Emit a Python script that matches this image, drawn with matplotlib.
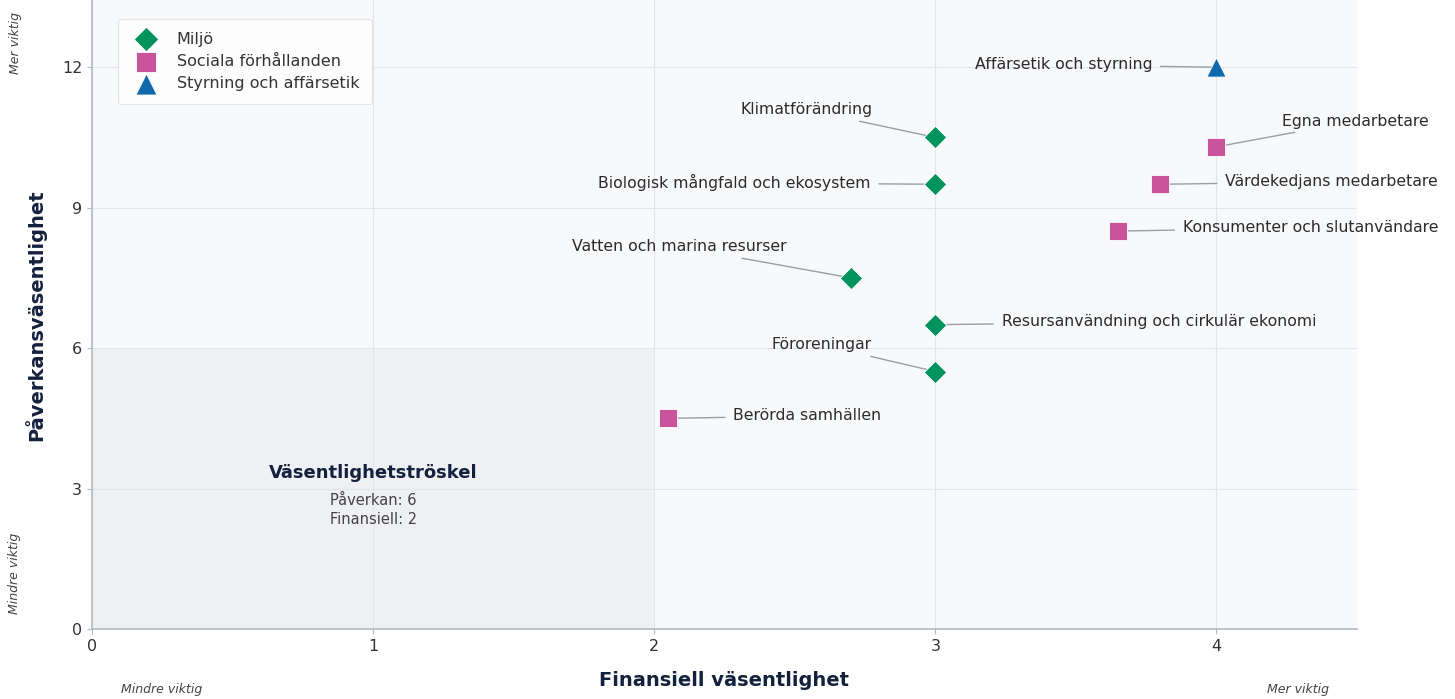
import matplotlib
matplotlib.use("Agg")
import matplotlib.pyplot as plt
from matplotlib.patches import Rectangle

# ---- data ----
miljo_names = ["Klimatförändring", "Biologisk mångfald och ekosystem",
               "Vatten och marina resurser", "Resursanvändning och cirkulär ekonomi",
               "Föroreningar"]
miljo_fin = [3.0, 3.0, 2.7, 3.0, 3.0]
miljo_pav = [10.5, 9.5, 7.5, 6.5, 5.5]

soc_names = ["Berörda samhällen", "Egna medarbetare", "Värdekedjans medarbetare",
             "Konsumenter och slutanvändare"]
soc_fin = [2.05, 4.0, 3.8, 3.65]
soc_pav = [4.5, 10.3, 9.5, 8.5]

gov_names = ["Affärsetik och styrning"]
gov_fin = [4.0]
gov_pav = [12.0]

# label positions (text centre, data coords)
label_pos = {
    "Klimatförändring": (2.54, 11.09),
    "Biologisk mångfald och ekosystem": (2.285, 9.53),
    "Vatten och marina resurser": (2.09, 8.16),
    "Resursanvändning och cirkulär ekonomi": (3.795, 6.56),
    "Föroreningar": (2.594, 6.07),
    "Berörda samhällen": (2.545, 4.55),
    "Egna medarbetare": (4.495, 10.85),
    "Värdekedjans medarbetare": (4.41, 9.55),
    "Konsumenter och slutanvändare": (4.335, 8.57),
    "Affärsetik och styrning": (3.456, 12.05),
}

threshold_pav = 6
threshold_fin = 2

green = "#00935e"
pink = "#c9549c"
blue = "#0f69aa"
navy = "#14213d"

fig = plt.figure(figsize=(14.55, 6.99), dpi=100)
ax = fig.add_axes([92 / 1455, 70 / 699, 1265 / 1455, 632 / 699])
ax.set_facecolor("#f8f9fb")

ax.set_xlim(0, 4.5)
ax.set_ylim(0, 13.5)

ax.add_patch(Rectangle((0, 0), threshold_fin, threshold_pav, facecolor="#eff0f3",
                       edgecolor="none", zorder=0.5))

ax.grid(True, color="#e3e5ea", linewidth=0.8, zorder=0.6)
ax.set_axisbelow(True)
ax.set_xticks([0, 1, 2, 3, 4])
ax.set_yticks([0, 3, 6, 9, 12])

ax.scatter(miljo_fin, miljo_pav, marker="D", s=130, color=green, edgecolor="white",
           linewidth=0.6, zorder=4, label="Miljö")
ax.scatter(soc_fin, soc_pav, marker="s", s=175, color=pink, edgecolor="white",
           linewidth=0.6, zorder=4, label="Sociala förhållanden")
ax.scatter(gov_fin, gov_pav, marker="^", s=190, color=blue, edgecolor="white",
           linewidth=0.6, zorder=4, label="Styrning och affärsetik")

for names, xs, ys in [(miljo_names, miljo_fin, miljo_pav),
                      (soc_names, soc_fin, soc_pav),
                      (gov_names, gov_fin, gov_pav)]:
    for n, x, y in zip(names, xs, ys):
        tx, ty = label_pos[n]
        ax.annotate(n, xy=(x, y), xytext=(tx, ty), ha="center", va="center",
                    fontsize=11.3, color="#2b2b2b", annotation_clip=False, zorder=3,
                    arrowprops=dict(arrowstyle="-", color="#9a9ea6", lw=1.0,
                                    shrinkA=4, shrinkB=0))

ax.text(1.0, 3.33, "Väsentlighetströskel", ha="center", va="center",
        fontsize=13, fontweight="bold", color=navy)
ax.text(1.0, 2.54, f"Påverkan: {threshold_pav}\nFinansiell: {threshold_fin}",
        ha="center", va="center", fontsize=10.5, color="#444444", linespacing=1.3)

for side in ["top", "right"]:
    ax.spines[side].set_visible(False)
for side in ["left", "bottom"]:
    ax.spines[side].set_color("#b5b8be")
    ax.spines[side].set_linewidth(1.2)
ax.tick_params(colors="#b5b8be", labelcolor="#333333", labelsize=11.5)

fig.text(724 / 1455, 1 - 681 / 699, "Finansiell väsentlighet", ha="center", va="center",
         fontsize=14, fontweight="bold", color=navy)
fig.text(35 / 1455, 1 - 315 / 699, "Påverkansväsentlighet", ha="center", va="center",
         fontsize=14, fontweight="bold", color=navy, rotation=90)

fig.text(162 / 1455, 1 - 690 / 699, "Mindre viktig", ha="center", va="center",
         fontsize=9, style="italic", color="#444444")
fig.text(1298 / 1455, 1 - 690 / 699, "Mer viktig", ha="center", va="center",
         fontsize=9, style="italic", color="#444444")
fig.text(15 / 1455, 1 - 573 / 699, "Mindre viktig", ha="center", va="center",
         fontsize=9, style="italic", color="#444444", rotation=90)
fig.text(15 / 1455, 1 - 43 / 699, "Mer viktig", ha="center", va="center",
         fontsize=9, style="italic", color="#444444", rotation=90)

leg = ax.legend(loc="upper left", bbox_to_anchor=(0.014, 0.978), fontsize=11.5,
                frameon=True, facecolor="white", edgecolor="#dddddd",
                borderpad=0.8, handletextpad=0.9, labelspacing=0.45,
                markerscale=1.1, labelcolor="#333333")
leg.get_frame().set_linewidth(0.8)

fig.savefig("out.png", dpi=100, facecolor="white")
